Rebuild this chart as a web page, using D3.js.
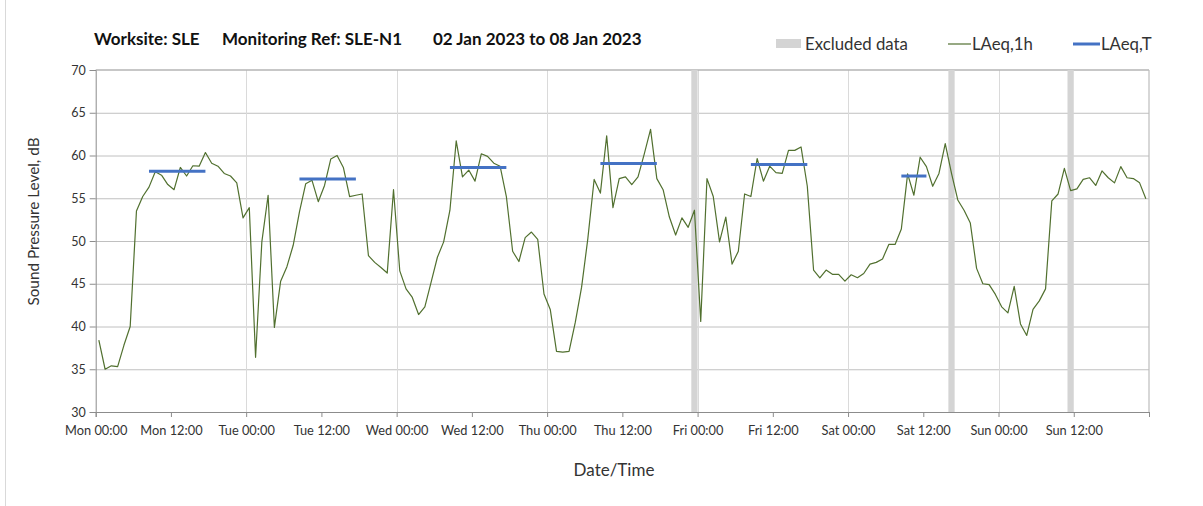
<!DOCTYPE html>
<html><head><meta charset="utf-8">
<script src="https://cdn.jsdelivr.net/npm/d3@7"></script>
<style>
body{margin:0;background:#fff;}
svg{display:block;font-family:Lato,"Open Sans",sans-serif;}
</style></head><body>
<svg id="chart" width="1203" height="506"></svg>
<script>
// ---- data ----
const titleParts = ["Worksite: SLE","Monitoring Ref: SLE-N1","02 Jan 2023 to 08 Jan 2023"];
const xTickHours = [0,12,24,36,48,60,72,84,96,108,120,132,144,156];
const xTickLabels = ["Mon 00:00","Mon 12:00","Tue 00:00","Tue 12:00","Wed 00:00","Wed 12:00","Thu 00:00","Thu 12:00","Fri 00:00","Fri 12:00","Sat 00:00","Sat 12:00","Sun 00:00","Sun 12:00"];
const yTicks = [30,35,40,45,50,55,60,65,70];
// hourly LAeq,1h values, Mon 00:00 .. Sun 23:00
const laeq1h = [
 38.4,35.0,35.4,35.3,37.8,40.0,53.5,55.2,56.3,58.1,57.7,56.6,56.0,58.6,57.6,58.8,58.75,60.35,59.1,58.75,57.9,57.6,56.8,52.7,
 53.9,36.4,49.9,55.35,39.9,45.3,47.0,49.5,53.4,56.7,57.1,54.6,56.5,59.6,60.0,58.6,55.2,55.35,55.5,48.3,47.5,46.9,46.25,56.0,
 46.5,44.4,43.4,41.4,42.3,45.2,48.1,49.9,53.6,61.7,57.5,58.3,57.0,60.2,59.9,59.1,58.75,55.2,48.8,47.6,50.4,51.05,50.2,43.8,
 42.0,37.1,37.0,37.1,40.5,44.6,50.3,57.2,55.6,62.3,53.9,57.3,57.5,56.6,57.5,60.2,63.05,57.3,56.0,52.8,50.7,52.7,51.6,53.6,
 40.6,57.3,55.2,49.9,52.8,47.3,48.8,55.5,55.2,59.65,57.0,58.75,58.0,57.9,60.6,60.6,61.0,56.4,46.6,45.7,46.6,46.1,46.1,45.3,
 46.05,45.7,46.2,47.3,47.5,47.9,49.6,49.6,51.4,57.85,55.35,59.8,58.7,56.4,57.9,61.4,57.9,54.8,53.6,52.1,46.8,45.0,44.9,43.75,
 42.3,41.6,44.7,40.3,38.95,42.0,43.0,44.4,54.7,55.5,58.5,55.9,56.1,57.2,57.4,56.5,58.2,57.4,56.8,58.7,57.4,57.3,56.8,54.95
];
const excludedHours = [95,136,155];
const periodStart = [8,32,56,80,104,128];
const periodEnd   = [18,42,66,90,114,133];
const periodLAeqT = [58.15,57.25,58.6,59.05,58.95,57.6];
const legendLabels = ["Excluded data","LAeq,1h","LAeq,T"];

// ---- drawing ----
const svg = d3.select("#chart");
const L = 95.7, R = 1149, T = 70, B = 412;
const x = d3.scaleLinear().domain([0,168]).range([L,R]);
const y = d3.scaleLinear().domain([30,70]).range([B,T]);
const cGreen = "#51702f", cBlue = "#4472c4", cEx = "#d4d4d4", cText = "#333";

// frame line at left
svg.append("line").attr("x1",5.5).attr("x2",5.5).attr("y1",0).attr("y2",506).attr("stroke","#d9d9d9");

// horizontal grid
svg.append("g").selectAll("line").data(yTicks.filter(v=>v>30 && v<70)).join("line")
  .attr("x1",L).attr("x2",R).attr("y1",d=>y(d)+0.5).attr("y2",d=>y(d)+0.5)
  .attr("stroke","#c0c0c0").attr("stroke-width",1);
// vertical day grid
svg.append("g").selectAll("line").data(xTickHours.filter(h=>h>0 && h%24===0)).join("line")
  .attr("x1",d=>Math.round(x(d))+0.5).attr("x2",d=>Math.round(x(d))+0.5).attr("y1",T).attr("y2",B)
  .attr("stroke","#dadada").attr("stroke-width",1);
// top & right border
svg.append("line").attr("x1",L).attr("x2",R).attr("y1",T).attr("y2",T).attr("stroke","#b4b4b4").attr("stroke-width",1.6);
svg.append("line").attr("x1",R).attr("x2",R).attr("y1",T).attr("y2",B).attr("stroke","#bdbdbd").attr("stroke-width",1.2);

// excluded data
svg.append("g").selectAll("rect").data(excludedHours).join("rect")
  .attr("x",d=>x(d)).attr("width",d=>x(d+1)-x(d)).attr("y",T).attr("height",B-T).attr("fill",cEx);

// axes
const yAxis = d3.axisLeft(y).tickValues(yTicks).tickSize(6).tickPadding(4).tickFormat(d3.format("d"));
const gy = svg.append("g").attr("transform",`translate(${L},0)`).call(yAxis);
gy.select(".domain").attr("stroke","#8c8c8c");
gy.selectAll(".tick line").attr("stroke","#8c8c8c");
gy.selectAll("text").attr("font-size",12.5).attr("fill",cText).style("font-family","Lato,sans-serif");

const xAxis = d3.axisBottom(x).tickValues(xTickHours.concat([168])).tickSize(5).tickPadding(9)
  .tickFormat((d,i)=> i<xTickLabels.length ? xTickLabels[i] : "");
const gx = svg.append("g").attr("transform",`translate(0,${B})`).call(xAxis);
gx.select(".domain").attr("stroke","#8c8c8c");
gx.selectAll(".tick line").attr("stroke","#8c8c8c");
gx.selectAll("text").attr("font-size",12.8).attr("fill",cText).style("font-family","Lato,sans-serif");

// LAeq,1h line
const line = d3.line().x((d,i)=>x(i+0.5)).y(d=>y(d));
svg.append("path").datum(laeq1h).attr("d",line).attr("fill","none")
  .attr("stroke",cGreen).attr("stroke-width",1.2).attr("stroke-linejoin","round");

// LAeq,T segments
svg.append("g").selectAll("line").data(periodLAeqT).join("line")
  .attr("x1",(d,i)=>x(periodStart[i]+0.5)).attr("x2",(d,i)=>x(periodEnd[i]-0.5))
  .attr("y1",d=>y(d)).attr("y2",d=>y(d))
  .attr("stroke",cBlue).attr("stroke-width",3);

// titles
const titleX = [94,222,433];
svg.append("g").selectAll("text").data(titleParts).join("text")
  .attr("x",(d,i)=>titleX[i]).attr("y",45).attr("font-size",17).attr("font-weight","bold")
  .attr("fill","#111").text(d=>d);
svg.append("text").attr("transform",`translate(39,${(140+303)/2}) rotate(-90)`).attr("text-anchor","middle")
  .attr("font-size",15.3).attr("fill",cText).text("Sound Pressure Level, dB");
svg.append("text").attr("x",614).attr("y",476).attr("text-anchor","middle")
  .attr("font-size",17).attr("fill",cText).text("Date/Time");

// legend
const lg = svg.append("g");
lg.append("rect").attr("x",776).attr("y",39).attr("width",25).attr("height",9).attr("fill",cEx);
lg.append("text").attr("x",805).attr("y",49.5).attr("font-size",16.8).attr("fill",cText).text(legendLabels[0]);
lg.append("line").attr("x1",948).attr("x2",971).attr("y1",44).attr("y2",44).attr("stroke",cGreen).attr("stroke-width",1.2);
lg.append("text").attr("x",972).attr("y",49.5).attr("font-size",16.8).attr("fill",cText).text(legendLabels[1]);
lg.append("line").attr("x1",1073).attr("x2",1100).attr("y1",44).attr("y2",44).attr("stroke",cBlue).attr("stroke-width",3);
lg.append("text").attr("x",1101).attr("y",49.5).attr("font-size",16.8).attr("fill",cText).text(legendLabels[2]);
</script>
</body></html>
